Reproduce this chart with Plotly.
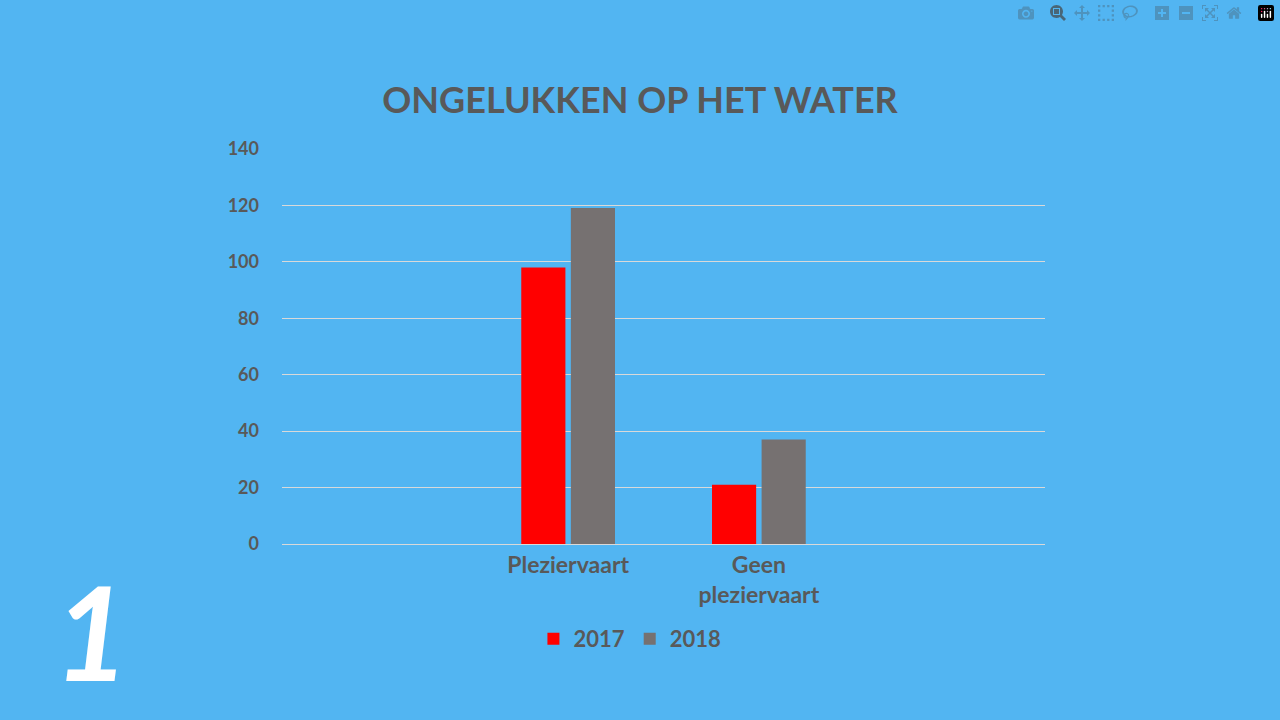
import plotly.graph_objects as go

# four slots on the axis, the outer two are empty in the original chart
categories = [" ", "Plezier\u00advaart", "Geen<br>pleziervaart", "  "]
cat_labels = ["", "Pleziervaart", "Geen<br>pleziervaart", ""]
vals_2017 = [None, 98, 21, None]
vals_2018 = [None, 119, 37, None]
y_ticks = [0, 20, 40, 60, 80, 100, 120, 140]

text_col = "#595959"
font = "Lato, 'DejaVu Sans', sans-serif"

fig = go.Figure()
fig.add_trace(go.Bar(x=categories, y=vals_2017, name="<b>2017</b>",
                     marker=dict(color="#FF0000", line=dict(width=0))))
fig.add_trace(go.Bar(x=categories, y=vals_2018, name="<b>2018</b>",
                     marker=dict(color="#767171", line=dict(width=0))))

fig.update_layout(
    width=1280, height=720,
    paper_bgcolor="#52B5F2", plot_bgcolor="#52B5F2",
    margin=dict(l=282, r=235, t=148, b=176),
    font=dict(family=font, color=text_col, size=16),
    title=dict(text="<b>ONGELUKKEN OP HET WATER</b>", x=0.5, xanchor="center",
               y=0.86, yanchor="middle", font=dict(size=36, color=text_col)),
    barmode="group", bargap=0.48, bargroupgap=0.11,
    showlegend=True,
    legend=dict(orientation="h", x=0.456, xanchor="center", y=-0.24, yanchor="middle",
                font=dict(size=22, color=text_col), itemwidth=30),
    xaxis=dict(tickvals=categories, ticktext=["<b>%s</b>" % t for t in cat_labels],
               tickfont=dict(size=23, color=text_col), showline=True,
               linecolor="#D9D9D9", linewidth=1, ticks=""),
    yaxis=dict(range=[0, 140.3], tickvals=y_ticks,
               ticktext=["<b>%d</b>" % v for v in y_ticks],
               tickfont=dict(size=18, color=text_col), gridcolor="#D9D9D9",
               gridwidth=1, zeroline=False, ticklabelstandoff=22),
)

fig.add_annotation(text="<b><i>1</i></b>", xref="paper", yref="paper",
                   x=-0.25, y=-0.22, xanchor="center", yanchor="middle",
                   showarrow=False, font=dict(size=130, color="white", family=font))

fig.write_html("out.html", post_script="document.body.style.margin='0';")
